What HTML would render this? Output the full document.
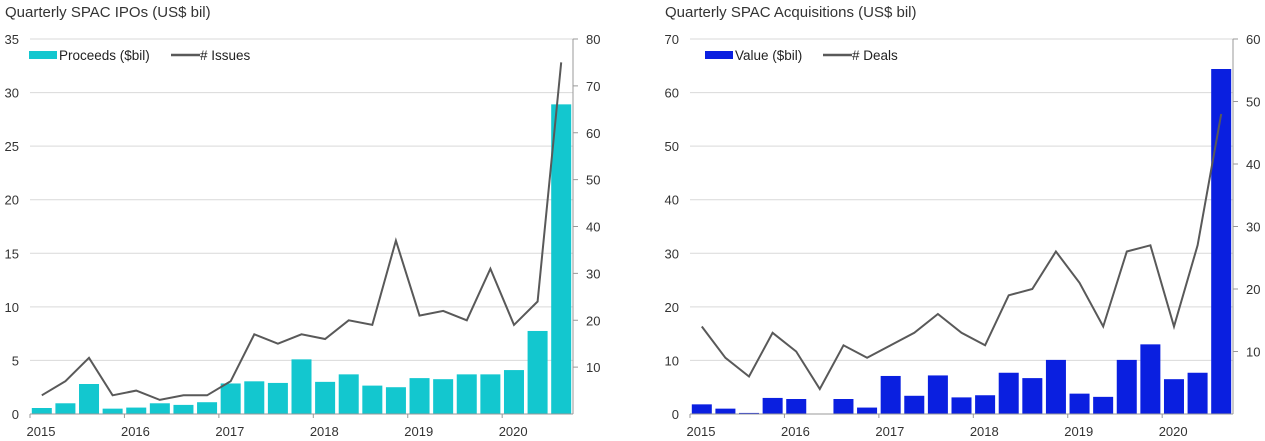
<!DOCTYPE html>
<html><head><meta charset="utf-8"><style>
body{margin:0;background:#fff;width:1265px;height:441px;overflow:hidden;font-family:"Liberation Sans",sans-serif;}
svg{position:absolute;left:0;top:0}
</style></head><body>
<svg id="c" width="1265" height="441"></svg>
<script>
const quarters=["2015Q1","2015Q2","2015Q3","2015Q4","2016Q1","2016Q2","2016Q3","2016Q4","2017Q1","2017Q2","2017Q3","2017Q4","2018Q1","2018Q2","2018Q3","2018Q4","2019Q1","2019Q2","2019Q3","2019Q4","2020Q1","2020Q2","2020Q3"];
const yearLabels=["2015","2016","2017","2018","2019","2020"];
const ipoProceeds=[0.56,1.0,2.8,0.5,0.6,1.0,0.85,1.1,2.85,3.05,2.9,5.1,3.0,3.7,2.65,2.5,3.35,3.25,3.7,3.7,4.1,7.75,28.9];
const ipoIssues=[4,7,12,4,5,3,4,4,7,17,15,17,16,20,19,37,21,22,20,31,19,24,75];
const acqValue=[1.8,1.0,0.2,3.0,2.8,0,2.8,1.2,7.1,3.4,7.2,3.1,3.5,7.7,6.7,10.1,3.8,3.2,10.1,13.0,6.5,7.7,64.4];
const acqDeals=[14,9,6,13,10,4,11,9,11,13,16,13,11,19,20,26,21,14,26,27,14,27,48];
const ipoLeftTicks=[0,5,10,15,20,25,30,35];
const ipoRightTicks=[10,20,30,40,50,60,70,80];
const acqLeftTicks=[0,10,20,30,40,50,60,70];
const acqRightTicks=[10,20,30,40,50,60];

const svg=document.getElementById('c');
const NS='http://www.w3.org/2000/svg';
function mk(tag,attrs,parent){const e=document.createElementNS(NS,tag);for(const k in attrs)e.setAttribute(k,attrs[k]);(parent||svg).appendChild(e);return e;}

function chart(o){
  const g=mk('g',{});
  
  
  const x0=o.x0,x1=o.x0+543,y0=414,y1=39;
  const slot=(x1-x0)/quarters.length;
  const yL=v=>y0-(v/o.lmax)*(y0-y1);
  const yR=v=>y0-(v/o.rmax)*(y0-y1);
  const xs=i=>x0+i*slot;
  const t=mk('text',{x:o.x0-25,y:17,'font-size':15,fill:'#333'},g);t.textContent=o.title;
  
  
  o.lt.forEach(v=>{
    if(v>0){const l=mk('line',{x1:x0,x2:x1,y1:yL(v),y2:yL(v),stroke:'#d9d9d9','stroke-width':1},g);
      
      }
    const tx=mk('text',{x:x0-11,y:yL(v)+5,'font-size':13,fill:'#333','text-anchor':'end'},g);tx.textContent=v;
    
    
  });
  o.rt.forEach(v=>{
    mk('line',{x1:x1,x2:x1+5,y1:yR(v),y2:yR(v),stroke:'#999'},g);
    const tx=mk('text',{x:x1+13,y:yR(v)+5,'font-size':13,fill:'#333'},g);tx.textContent=v;
    
    
  });
  o.vals.forEach((v,i)=>{
    const r=mk('rect',{x:xs(i)+1.8,y:yL(v),width:slot-3.6,height:y0-yL(v),fill:o.color},g);
    
    
  });
  mk('line',{x1:x0,x2:x1,y1:y0,y2:y0,stroke:'#999'},g);
  mk('line',{x1:x1,x2:x1,y1:y1,y2:y0,stroke:'#999'},g);
  yearLabels.forEach((y,i)=>{
    const xx=xs(i*4);
    mk('line',{x1:xx,x2:xx,y1:y0,y2:y0+4,stroke:'#999'},g);
    const tx=mk('text',{x:xx+11,y:436,'font-size':13,fill:'#333','text-anchor':'middle'},g);tx.textContent=y;
    
    
  });
  const pts=o.line.map((v,i)=>(xs(i)+slot/2).toFixed(1)+','+yR(v).toFixed(1)).join(' ');
  const pl=mk('polyline',{points:pts,fill:'none',stroke:'#595959','stroke-width':2},g);
  
  
  const lg=mk('g',{},g);
  
  
  mk('rect',{x:x0-1+o.lgOff,y:51,width:28,height:8,fill:o.color},lg);
  const a=mk('text',{x:x0+29+o.lgOff,y:60,'font-size':13.5,fill:'#222'},lg);a.textContent=o.l1;
  mk('line',{x1:x0+141+o.lgOff2,x2:x0+170+o.lgOff2,y1:55,y2:55,stroke:'#595959','stroke-width':2.5},lg);
  const b=mk('text',{x:x0+170+o.lgOff2,y:60,'font-size':13.5,fill:'#222'},lg);b.textContent=o.l2;
}
chart({name:'spac-ipo-chart',x0:30,title:'Quarterly SPAC IPOs (US$ bil)',lmax:35,rmax:80,lt:ipoLeftTicks,rt:ipoRightTicks,vals:ipoProceeds,line:ipoIssues,color:'#13c7cf',l1:'Proceeds ($bil)',l2:'# Issues',lgOff:0,lgOff2:0});
chart({name:'spac-acquisition-chart',x0:690,title:'Quarterly SPAC Acquisitions (US$ bil)',lmax:70,rmax:60,lt:acqLeftTicks,rt:acqRightTicks,vals:acqValue,line:acqDeals,color:'#0a1fe0',l1:'Value ($bil)',l2:'# Deals',lgOff:16,lgOff2:-8});
</script>
</body></html>
